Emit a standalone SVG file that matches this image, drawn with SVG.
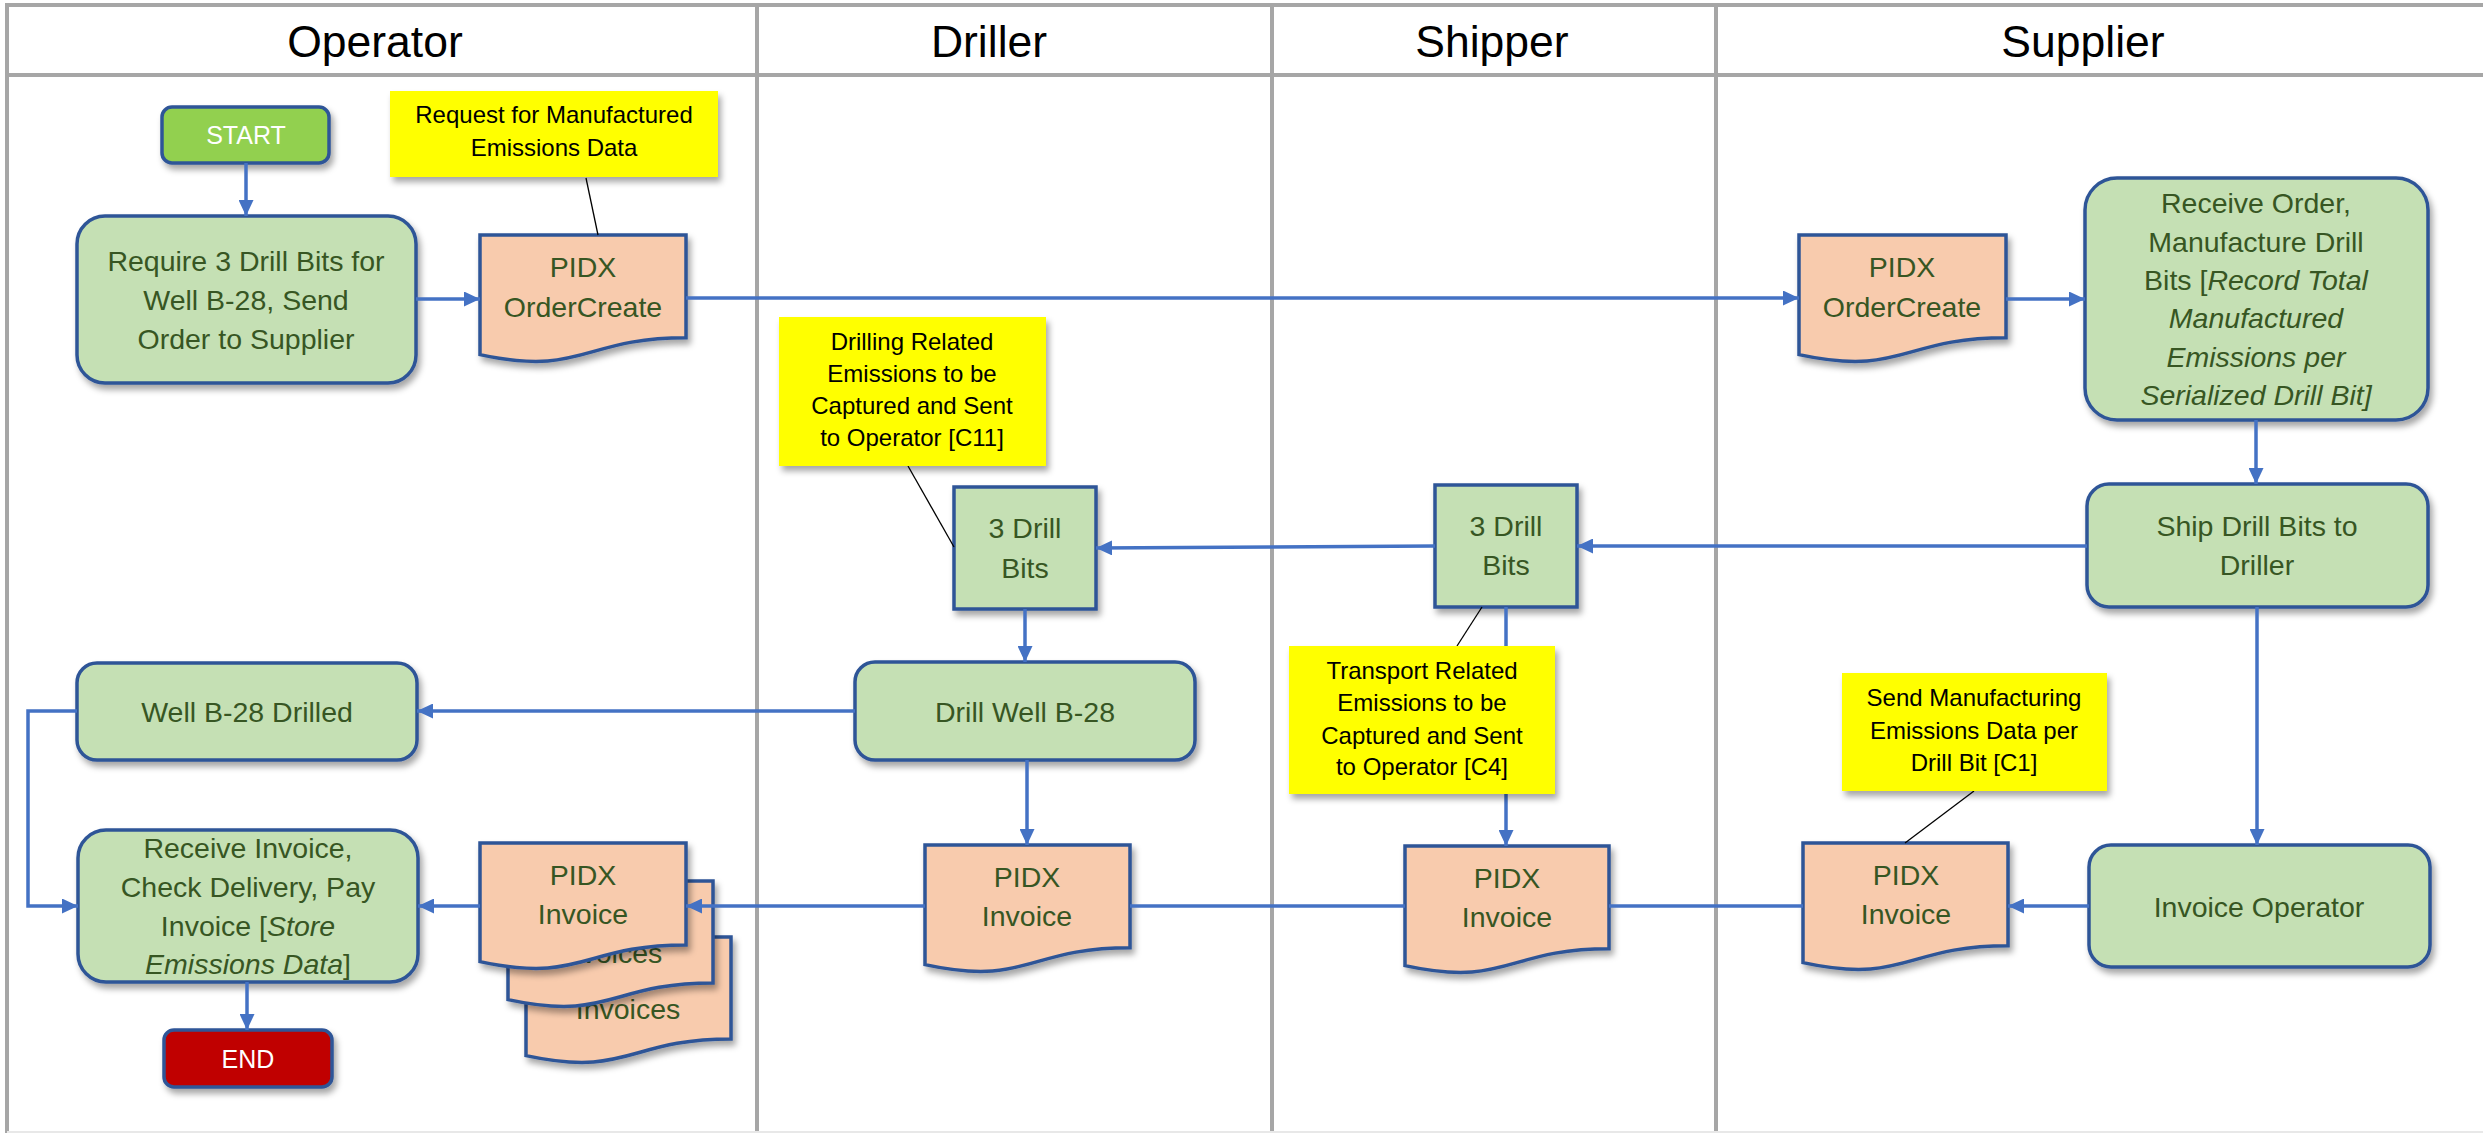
<svg xmlns="http://www.w3.org/2000/svg" width="2483" height="1133" viewBox="0 0 2483 1133">
<defs>
<style>
.lane{stroke:#A6A6A6;stroke-width:4;fill:none}
.hdr{font-family:"Liberation Sans",Arial,sans-serif;font-size:44.5px;fill:#000;text-anchor:middle}
.proc{fill:#C5E0B4;stroke:#2F5597;stroke-width:3.5}
.doc{fill:#F8CBAD;stroke:#2F5597;stroke-width:3.5}
.term{stroke:#2F5597;stroke-width:3.5}
.note{fill:#FFFF00}
.t{font-family:"Liberation Sans",Arial,sans-serif;font-size:28.5px;fill:#375623;text-anchor:middle}
.tw{font-family:"Liberation Sans",Arial,sans-serif;font-size:25px;fill:#FFFFFF;text-anchor:middle}
.tn{font-family:"Liberation Sans",Arial,sans-serif;font-size:24px;fill:#000;text-anchor:middle}
.it{font-style:italic}
.c{stroke:#4472C4;stroke-width:3.5;fill:none}
.ca{stroke:#4472C4;stroke-width:3.5;fill:none;marker-end:url(#ah)}
.lead{stroke:#000;stroke-width:1.3;fill:none}
</style>
<marker id="ah" markerUnits="userSpaceOnUse" markerWidth="16" markerHeight="15" refX="16" refY="7.5" orient="auto">
<path d="M0,0 L16,7.5 L0,15 z" fill="#4472C4"/>
</marker>
<filter id="sh" x="-10%" y="-10%" width="130%" height="140%">
<feDropShadow dx="3" dy="5" stdDeviation="3" flood-color="#000" flood-opacity="0.35"/>
</filter>
</defs>
<rect width="2483" height="1133" fill="#FFFFFF"/>
<g id="lanes">
<line class="lane" x1="7" y1="5" x2="2483" y2="5"/>
<line class="lane" x1="7" y1="75" x2="2483" y2="75"/>
<line class="lane" x1="7" y1="3" x2="7" y2="1133"/>
<line class="lane" x1="757" y1="5" x2="757" y2="1133"/>
<line class="lane" x1="1272" y1="5" x2="1272" y2="1133"/>
<line class="lane" x1="1716" y1="5" x2="1716" y2="1133"/>
<line x1="7" y1="1132" x2="2483" y2="1132" stroke="#E8E8E8" stroke-width="2"/>
<text class="hdr" x="375" y="57">Operator</text>
<text class="hdr" x="989" y="57">Driller</text>
<text class="hdr" x="1492" y="57">Shipper</text>
<text class="hdr" x="2083" y="57">Supplier</text>
</g>
<g id="start">
<rect class="term" x="162" y="107" width="167" height="56" rx="10" fill="#92D050" filter="url(#sh)"/>
<text class="tw" x="246" y="144">START</text>
</g>
<g id="require">
<rect class="proc" x="77" y="216" width="339" height="167" rx="28" filter="url(#sh)"/>
<text class="t" x="246" y="271">Require 3 Drill Bits for</text>
<text class="t" x="246" y="310">Well B-28, Send</text>
<text class="t" x="246" y="349">Order to Supplier</text>
</g>
<g id="op-ordercreate">
<path class="doc" filter="url(#sh)" d="M480,235 H686 V337.7 C583,337.7 583,376.8 480,354.6 Z"/>
<text class="t" x="583" y="277">PIDX</text>
<text class="t" x="583" y="317">OrderCreate</text>
</g>
<g id="sup-ordercreate">
<path class="doc" filter="url(#sh)" d="M1799,235 H2006 V337.7 C1902.5,337.7 1902.5,376.8 1799,354.6 Z"/>
<text class="t" x="1902" y="277">PIDX</text>
<text class="t" x="1902" y="317">OrderCreate</text>
</g>
<g id="receive-order">
<rect class="proc" x="2085" y="178" width="343" height="242" rx="32" filter="url(#sh)"/>
<text class="t" x="2256" y="213">Receive Order,</text>
<text class="t" x="2256" y="252">Manufacture Drill</text>
<text class="t" x="2256" y="290">Bits [<tspan class="it">Record Total</tspan></text>
<text class="t it" x="2256" y="328">Manufactured</text>
<text class="t it" x="2256" y="367">Emissions per</text>
<text class="t it" x="2256" y="405">Serialized Drill Bit]</text>
</g>
<g id="ship-drill-bits">
<rect class="proc" x="2087" y="484" width="341" height="123" rx="22" filter="url(#sh)"/>
<text class="t" x="2257" y="536">Ship Drill Bits to</text>
<text class="t" x="2257" y="575">Driller</text>
</g>
<g id="shipper-bits">
<rect class="proc" x="1435" y="485" width="142" height="122" filter="url(#sh)"/>
<text class="t" x="1506" y="536">3 Drill</text>
<text class="t" x="1506" y="575">Bits</text>
</g>
<g id="driller-bits">
<rect class="proc" x="954" y="487" width="142" height="122" filter="url(#sh)"/>
<text class="t" x="1025" y="538">3 Drill</text>
<text class="t" x="1025" y="578">Bits</text>
</g>
<g id="drill-well">
<rect class="proc" x="855" y="662" width="340" height="98" rx="20" filter="url(#sh)"/>
<text class="t" x="1025" y="722">Drill Well B-28</text>
</g>
<g id="well-drilled">
<rect class="proc" x="77" y="663" width="340" height="97" rx="20" filter="url(#sh)"/>
<text class="t" x="247" y="722">Well B-28 Drilled</text>
</g>
<g id="invoice-operator">
<rect class="proc" x="2089" y="845" width="341" height="122" rx="22" filter="url(#sh)"/>
<text class="t" x="2259" y="917">Invoice Operator</text>
</g>
<g id="sup-invoice">
<path class="doc" filter="url(#sh)" d="M1803,843 H2008 V945.7 C1905.5,945.7 1905.5,984.8 1803,962.6 Z"/>
<text class="t" x="1906" y="885">PIDX</text>
<text class="t" x="1906" y="924">Invoice</text>
</g>
<g id="shipper-invoice">
<path class="doc" filter="url(#sh)" d="M1405,846 H1609 V948.7 C1507,948.7 1507,987.8 1405,965.6 Z"/>
<text class="t" x="1507" y="888">PIDX</text>
<text class="t" x="1507" y="927">Invoice</text>
</g>
<g id="driller-invoice">
<path class="doc" filter="url(#sh)" d="M925,845 H1130 V947.7 C1027.5,947.7 1027.5,986.8 925,964.6 Z"/>
<text class="t" x="1027" y="887">PIDX</text>
<text class="t" x="1027" y="926">Invoice</text>
</g>
<g id="receive-invoice">
<rect class="proc" x="78" y="830" width="340" height="152" rx="28" filter="url(#sh)"/>
<text class="t" x="248" y="858">Receive Invoice,</text>
<text class="t" x="248" y="897">Check Delivery, Pay</text>
<text class="t" x="248" y="936">Invoice [<tspan class="it">Store</tspan></text>
<text class="t" x="248" y="974"><tspan class="it">Emissions Data</tspan>]</text>
</g>
<g id="end">
<rect class="term" x="164" y="1030" width="168" height="57" rx="10" fill="#C00000" filter="url(#sh)"/>
<text class="tw" x="248" y="1068">END</text>
</g>
<g id="op-invoices">
<path class="doc" filter="url(#sh)" d="M526,937 H731 V1038.9 C628.5,1038.9 628.5,1077.7 526,1055.6 Z"/>
<text class="t" x="628" y="1019">Invoices</text>
<path class="doc" filter="url(#sh)" d="M508,881 H713 V982.9 C610.5,982.9 610.5,1021.7 508,999.6 Z"/>
<text class="t" x="610" y="963">Invoices</text>
<path class="doc" filter="url(#sh)" d="M480,843 H686 V944.9 C583,944.9 583,983.7 480,961.6 Z"/>
<text class="t" x="583" y="885">PIDX</text>
<text class="t" x="583" y="924">Invoice</text>
</g>
<g id="connectors">
<path class="ca" d="M246,163 V216"/>
<path class="ca" d="M416,299 H480"/>
<path class="ca" d="M686,298 H1799"/>
<path class="ca" d="M2006,299 H2085"/>
<path class="ca" d="M2256,420 V484"/>
<path class="ca" d="M2087,546 H1577"/>
<path class="ca" d="M1435,546 L1096,548"/>
<path class="ca" d="M1025,609 V662"/>
<path class="ca" d="M855,711 H417"/>
<path class="ca" d="M77,711 H28 V906 H78"/>
<path class="ca" d="M247,982 V1030"/>
<path class="ca" d="M1027,760 V845"/>
<path class="ca" d="M1506,607 V846"/>
<path class="ca" d="M2257,607 V845"/>
<path class="ca" d="M2089,906 H2008"/>
<path class="c" d="M1803,906 H1609"/>
<path class="c" d="M1405,906 H1130"/>
<path class="ca" d="M925,906 H686"/>
<path class="ca" d="M480,906 H418"/>
</g>
<g id="note-request">
<line class="lead" x1="586" y1="178" x2="598" y2="235"/>
<rect class="note" x="390" y="91" width="328" height="86" filter="url(#sh)"/>
<text class="tn" x="554" y="123">Request for Manufactured</text>
<text class="tn" x="554" y="156">Emissions Data</text>
</g>
<g id="note-drilling">
<line class="lead" x1="908" y1="466" x2="954" y2="547"/>
<rect class="note" x="779" y="317" width="267" height="149" filter="url(#sh)"/>
<text class="tn" x="912" y="350">Drilling Related</text>
<text class="tn" x="912" y="382">Emissions to be</text>
<text class="tn" x="912" y="414">Captured and Sent</text>
<text class="tn" x="912" y="446">to Operator [C11]</text>
</g>
<g id="note-transport">
<line class="lead" x1="1482" y1="607" x2="1457" y2="646"/>
<rect class="note" x="1289" y="646" width="266" height="148" filter="url(#sh)"/>
<text class="tn" x="1422" y="679">Transport Related</text>
<text class="tn" x="1422" y="711">Emissions to be</text>
<text class="tn" x="1422" y="744">Captured and Sent</text>
<text class="tn" x="1422" y="775">to Operator [C4]</text>
</g>
<g id="note-send">
<line class="lead" x1="1974" y1="791" x2="1905" y2="843"/>
<rect class="note" x="1842" y="673" width="265" height="118" filter="url(#sh)"/>
<text class="tn" x="1974" y="706">Send Manufacturing</text>
<text class="tn" x="1974" y="739">Emissions Data per</text>
<text class="tn" x="1974" y="771">Drill Bit [C1]</text>
</g>
</svg>
